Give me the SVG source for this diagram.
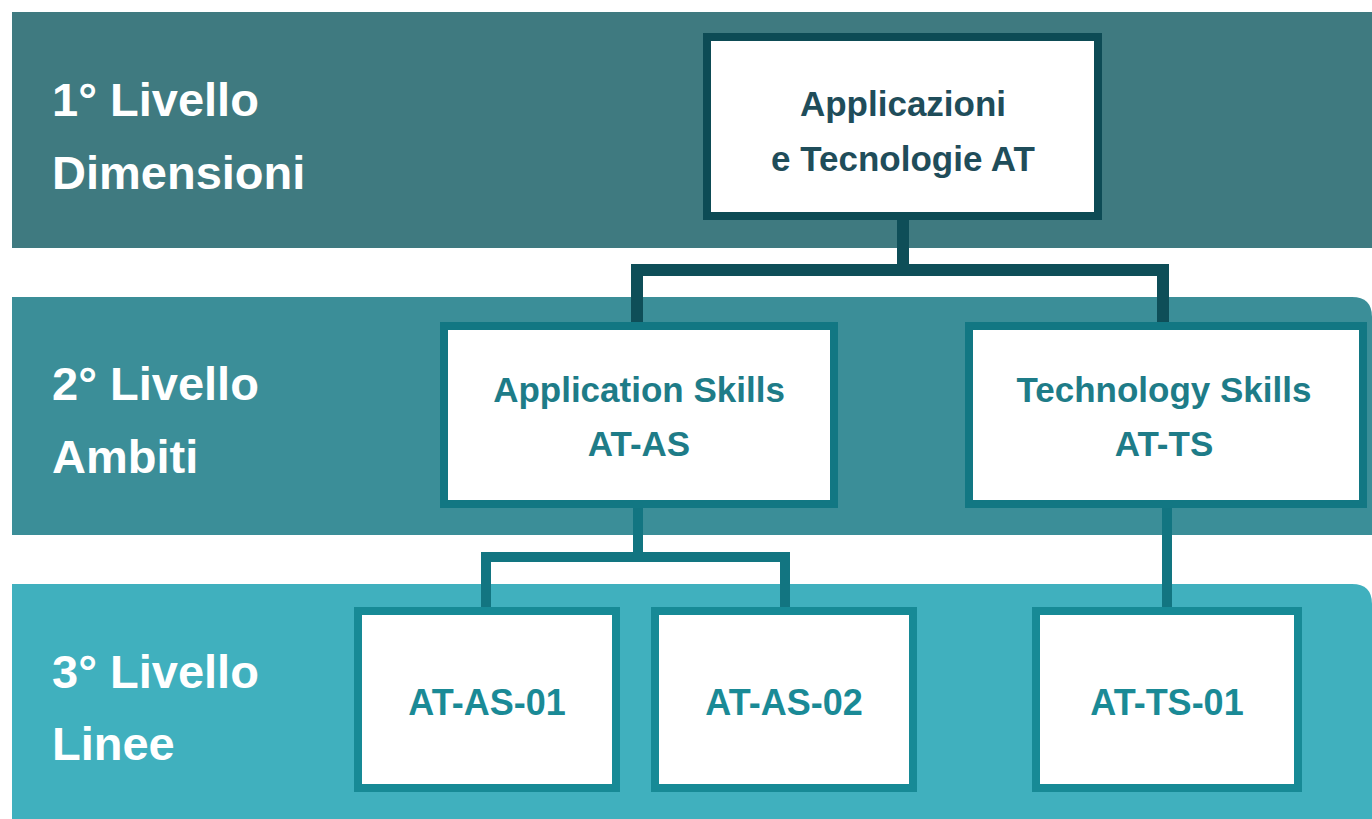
<svg xmlns="http://www.w3.org/2000/svg" width="1372" height="819" viewBox="0 0 1372 819">
<style>
.lvl{font-family:"Liberation Sans",Arial,sans-serif;font-weight:bold;font-size:47px;fill:#ffffff}
.n1{fill:#ffffff;stroke:#0d4b55;stroke-width:8}
.n2{fill:#ffffff;stroke:#127783;stroke-width:8}
.n3{fill:#ffffff;stroke:#178a96;stroke-width:8}
.t1{font-family:"Liberation Sans",Arial,sans-serif;font-weight:bold;font-size:35px;fill:#1f4d5a;text-anchor:middle}
.t2{font-family:"Liberation Sans",Arial,sans-serif;font-weight:bold;font-size:35px;fill:#1e7c88;text-anchor:middle}
.t3{font-family:"Liberation Sans",Arial,sans-serif;font-weight:bold;font-size:36px;fill:#1a8a96;text-anchor:middle}
.c1{fill:none;stroke:#0e4e58;stroke-width:12}
.c2{fill:none;stroke:#127581;stroke-width:10}
</style>
<rect width="1372" height="819" fill="#ffffff"/>
<g id="bands">
<rect x="12" y="12" width="1380" height="236" fill="#3f7a80"/>
<path d="M12 297 H1352 Q1372 297 1372 317 V535 H12 Z" fill="#3b8e98"/>
<path d="M12 584 H1352 Q1372 584 1372 604 V819 H12 Z" fill="#40b0be"/>
</g>
<g id="labels">
<text class="lvl" x="52" y="116">1° Livello</text>
<text class="lvl" x="52" y="189">Dimensioni</text>
<text class="lvl" x="52" y="400">2° Livello</text>
<text class="lvl" x="52" y="473">Ambiti</text>
<text class="lvl" x="52" y="688">3° Livello</text>
<text class="lvl" x="52" y="760">Linee</text>
</g>
<g id="connectors">
<path class="c1" d="M903 216 V270 M637 270 H1163 M637 264 V326 M1163 264 V326"/>
<path class="c2" d="M638 508 V557 M486 557 H785 M486 552 V611 M785 552 V611 M1167 508 V611"/>
</g>
<g id="node-at">
<rect class="n1" x="707" y="37" width="391" height="179"/>
<text class="t1" x="903" y="116">Applicazioni</text>
<text class="t1" x="903" y="171">e Tecnologie AT</text>
</g>
<g id="node-at-as">
<rect class="n2" x="444" y="326" width="390" height="178"/>
<text class="t2" x="639" y="402">Application Skills</text>
<text class="t2" x="639" y="456">AT-AS</text>
</g>
<g id="node-at-ts">
<rect class="n2" x="969" y="326" width="394" height="178"/>
<text class="t2" x="1164" y="402">Technology Skills</text>
<text class="t2" x="1164" y="456">AT-TS</text>
</g>
<g id="node-at-as-01">
<rect class="n3" x="358" y="611" width="258" height="177"/>
<text class="t3" x="487" y="715">AT-AS-01</text>
</g>
<g id="node-at-as-02">
<rect class="n3" x="655" y="611" width="258" height="177"/>
<text class="t3" x="784" y="715">AT-AS-02</text>
</g>
<g id="node-at-ts-01">
<rect class="n3" x="1036" y="611" width="262" height="177"/>
<text class="t3" x="1167" y="715">AT-TS-01</text>
</g>
</svg>
